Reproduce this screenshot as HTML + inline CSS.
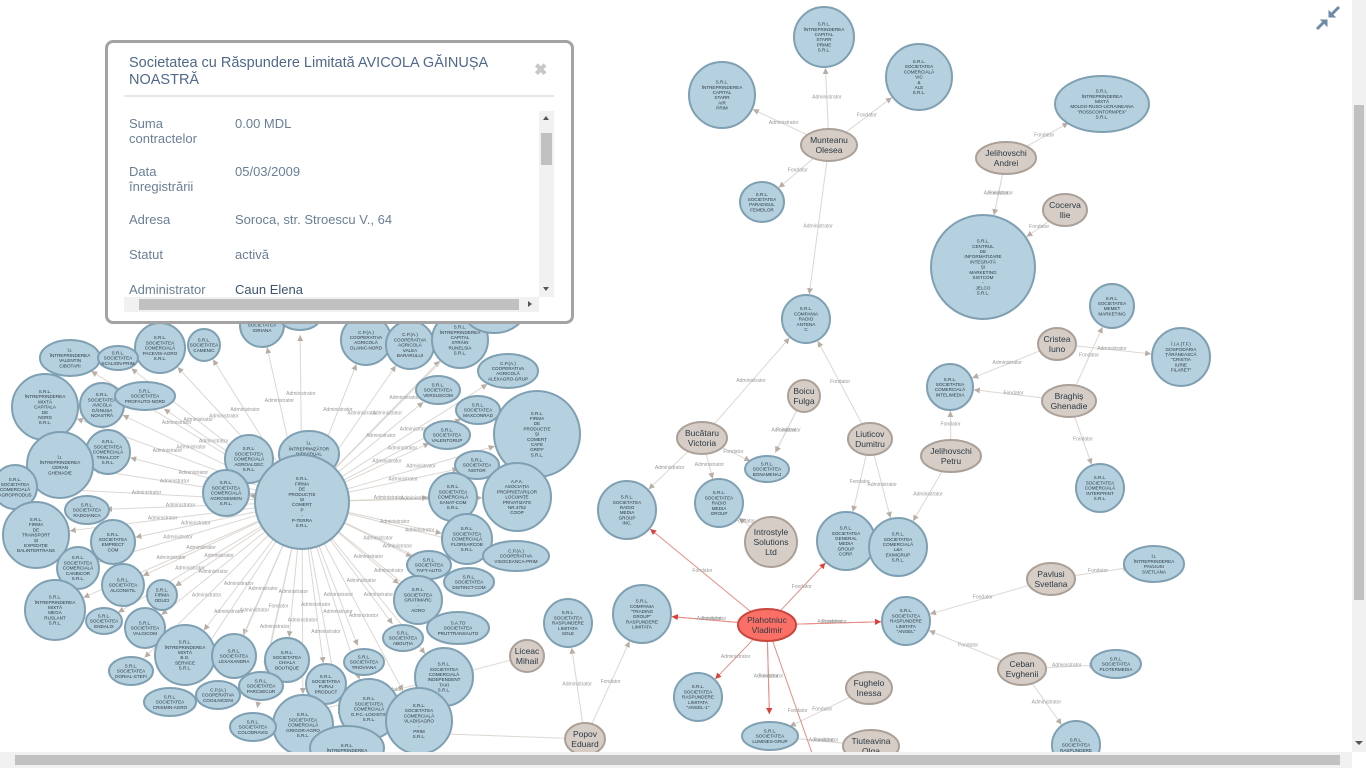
<!DOCTYPE html>
<html><head><meta charset="utf-8"><style>
html,body{margin:0;padding:0;width:1366px;height:768px;overflow:hidden;background:#fff;font-family:"Liberation Sans",sans-serif}
#graph{position:absolute;left:0;top:0}
.popup{position:absolute;left:105px;top:40px;width:463px;height:278px;border:3px solid #a3a3a3;border-radius:8px;background:#fff}
.ptitle{position:absolute;left:21px;top:12px;width:390px;font-size:14.5px;line-height:17px;color:#50688a}
.pclose{position:absolute;left:426px;top:17px;font-size:16px;color:#c8c8c8;font-weight:bold}
.pline{position:absolute;left:16px;top:52px;width:430px;height:2px;background:#e3e8ec}
.pbody{position:absolute;left:16px;top:68px;width:415px;height:186px;overflow:hidden;font-size:13px;line-height:15px;color:#6a7f96}
.row{position:absolute;left:5px}
.row .k{position:absolute;left:0;width:90px}
.row .v{position:absolute;left:106px;white-space:nowrap}
.vsb{position:absolute;left:431px;top:68px;width:15px;height:186px;background:#f1f1f1}
.hsb{position:absolute;left:16px;top:254px;width:415px;height:15px;background:#f1f1f1}
.vscroll{position:absolute;right:0;top:0;width:14px;height:752px;background:#f1f1f1}
.hscroll{position:absolute;left:0;bottom:0;width:1352px;height:16px;background:#f1f1f1}
</style></head><body>
<svg id="graph" width="1366" height="768"></svg>

<div class="popup">
 <div class="ptitle">Societatea cu Răspundere Limitată AVICOLA GĂINUȘA NOASTRĂ</div>
 <div class="pclose">✖</div>
 <div class="pline"></div>
 <div class="pbody">
  <div class="row" style="top:5px"><div class="k">Suma contractelor</div><div class="v">0.00 MDL</div></div>
  <div class="row" style="top:53px"><div class="k">Data înregistrării</div><div class="v">05/03/2009</div></div>
  <div class="row" style="top:101px"><div class="k">Adresa</div><div class="v">Soroca, str. Stroescu V., 64</div></div>
  <div class="row" style="top:136px"><div class="k">Statut</div><div class="v">activă</div></div>
  <div class="row" style="top:171px"><div class="k">Administrator</div><div class="v" style="color:#3d5470">Caun Elena</div></div>
 </div>
 <div class="vsb">
  <div style="position:absolute;left:4px;top:5px;border:3.5px solid transparent;border-bottom:4px solid #555;border-top:0"></div>
  <div style="position:absolute;left:2px;top:22px;width:11px;height:32px;background:#c1c1c1"></div>
  <div style="position:absolute;left:4px;top:176px;border:3.5px solid transparent;border-top:4px solid #555;border-bottom:0"></div>
 </div>
 <div class="hsb">
  <div style="position:absolute;left:15px;top:2px;width:380px;height:11px;background:#c1c1c1"></div>
  <div style="position:absolute;left:404px;top:4px;border:3.5px solid transparent;border-left:4px solid #555;border-right:0"></div>
 </div>
</div>

<div style="position:absolute;left:1314px;top:4px;width:28px;height:28px">
<svg width="28" height="28"><g stroke="#6f8aa8" stroke-width="3" fill="#6f8aa8"><line x1="3" y1="25" x2="11" y2="17"/><polygon points="7,16 13,16 13,22" stroke-width="1"/><line x1="25" y1="3" x2="17" y2="11"/><polygon points="15,7 15,13 21,13" stroke-width="1"/></g></svg></div>
<div class="vscroll"><div style="position:absolute;left:2px;top:105px;width:10px;height:495px;background:#c1c1c1"></div><div style="position:absolute;left:3px;top:741px;border:4px solid transparent;border-top:4px solid #555;border-bottom:0"></div></div>
<div class="hscroll"><div style="position:absolute;left:15px;top:3px;width:1325px;height:10px;background:#c1c1c1"></div></div>

<script>
const nodeIds=["n0","n1","n2","n3","n4","n5","n6","n7","n8","n9","n10","n11","n12","n13","n14","n15","n16","n17","n18","n19","n20","n21","n22","n23","pMun","pJA","pCoc","pCri","pBra","pBoi","pBuc","pLiu","pJP","pInt","pPav","pCeb","pFug","pTiu","pPop","pLic","pPla"];
const nodeX=[824,722,919,1102,762,983,806,1112,1181,950,1100,767,719,627,846,898,906,1154,642,568,698,770,1116,1076,829,1006,1065,1057,1069,804,702,870,951,771,1051,1022,869,871,585,527,767];
const nodeY=[37,95,77,104,202,267,319,306,357,387,488,469,503,510,541,547,621,564,614,623,697,736,664,745,145,158,210,344,401,396,438,439,456,542,579,669,688,746,739,656,625];
const nodeRX=[30,33,33,47,22,52,24,22,29,23,24,22,24,29,29,29,24,30,29,24,24,28,25,24,28,30,22,19,27,16,25,22,30,26,24,24,23,28,20,17,29];
const nodeRY=[30,33,33,28,20,52,24,22,29,23,24,13,24,29,29,29,24,18,29,24,24,14,14,24,16,16,16,16,16,16,16,16,16,25,16,16,16,16,16,16,16];
const nodeKind=["c","c","c","c","c","c","c","c","c","c","c","c","c","c","c","c","c","c","c","c","c","c","c","c","p","p","p","p","p","p","p","p","p","p","p","p","p","p","p","p","h"];
const nodeLabel=["S.R.L.|ÎNTREPRINDEREA|CAPITAL|STARR|PRIME|S.R.L.","S.R.L.|ÎNTREPRINDEREA|CAPITAL|STARR|AIR|PRIM","S.R.L.|SOCIETATEA|COMERCIALĂ|VIC|&|ALE|S.R.L.","S.R.L.|ÎNTREPRINDEREA|MIXTĂ|MOLDO-RUSO-UCRAINEANA|\"ROSSCONTORMPEX\"|S.R.L.","S.R.L.|SOCIETATEA|PARADISUL|FEMEILOR","S.R.L.|CENTRUL|DE|INFORMATIZARE|INTEGRATĂ|ȘI|MARKETING|SISTCOM|-|JELCO|S.R.L.","S.R.L.|COMPANIA|RADIO|ANTENA|C","S.R.L.|SOCIETATEA|MEMET|MARKETING","Î.I.A.(T.F.)|GOSPODĂRIA|ȚĂRĂNEASCĂ|\"CRISTIA|IURIE|FILARET\"","S.R.L.|SOCIETATEA|COMERCIALĂ|INTELIMEDIA","S.R.L.|SOCIETATEA|COMERCIALĂ|INTERPRINT|S.R.L.","S.R.L.|SOCIETATEA|BONAMENAJ","S.R.L.|SOCIETATEA|RADIO|MEDIA|GROUP","S.R.L.|SOCIETATEA|RADIO|MEDIA|GROUP|INC.","S.R.L.|SOCIETATEA|GENERAL|MEDIA|GROUP|CORP.","S.R.L.|SOCIETATEA|COMERCIALĂ|L&A|EXIMGRUP|S.R.L.","S.R.L.|SOCIETATEA|RASPUNDERE|LIMITATA|\"ANGEL\"","Î.I.|ÎNTREPRINDEREA|PAVLIUSI|SVETLANA","S.R.L.|COMPANIA|\"TRADING|GROUP\"|RASPUNDERE|LIMITATA","S.R.L.|SOCIETATEA|RASPUNDERE|LIMITATA|SOLE","S.R.L.|SOCIETATEA|RASPUNDERE|LIMITATA|\"ANGEL-1\"","S.R.L.|SOCIETATEA|LUMINES-GRUP","S.R.L.|SOCIETATEA|PLOTERMEDIA","S.R.L.|SOCIETATEA|RASPUNDERE","Munteanu|Olesea","Jelihovschi|Andrei","Cocerva|Ilie","Cristea|Iuno","Braghiș|Ghenadie","Boicu|Fulga","Bucătaru|Victoria","Liuticov|Dumitru","Jelihovschi|Petru","Introstyle|Solutions|Ltd","Pavlusi|Svetlana","Ceban|Evghenii","Fughelo|Inessa","Tiuteavina|Olga","Popov|Eduard","Liceac|Mihail","Plahotniuc|Vladimir"];
const edgeSrc=["pMun","pMun","pMun","pMun","pMun","pJA","pJA","pJA","pCoc","pCri","pCri","pBra","pBra","pBra","pJP","pJP","pBoi","pBoi","pBuc","pBuc","pBuc","pBuc","pLiu","pLiu","pLiu","pInt","pPla","pPla","pPla","pPla","pPla","pPla","pPla","pPla","pPla","pPav","pPav","pCeb","pCeb","pCeb","pFug","pTiu","pTiu","pPop","pPop","pPop","pLic"];
const edgeTgt=["n0","n1","n2","n4","n6","n3","n5","n5","n5","n9","n8","n9","n7","n10","n9","n15","n11","n11","n13","n12","n11","n6","n6","n15","n14","n12","n13","n18","n18","n14","n16","n16","n20","n21","n21","n17","n16","n16","n22","n23","n21","n21","n21","n19","n18","L56","L56"];
const edgeRole=["Administrator","Administrator","Fondator","Fondator","Administrator","Fondator","Administrator","Fondator","Fondator","Administrator","Administrator","Fondator","Fondator","Fondator","Fondator","Administrator","Administrator","Fondator","Administrator","Administrator","Fondator","Administrator","Fondator","Administrator","Fondator","Fondator","Fondator","Administrator","Fondator","Fondator","Administrator","Fondator","Administrator","Administrator","Fondator","Fondator","Fondator","Fondator","Administrator","Administrator","Fondator","Administrator","Fondator","Administrator","Fondator","Administrator","Fondator"];
const leftX=[160,204,262,300,366,410,460,494,508,70,118,45,102,145,108,60,15,249,309,438,478,447,477,537,453,517,467,516,226,87,36,113,78,123,55,162,104,145,185,234,287,131,170,218,261,326,364,429,469,418,403,458,444,369,419,303,253,347];
const leftY=[348,345,325,318,340,345,340,308,371,358,358,407,405,396,452,465,487,459,454,390,410,435,465,434,497,497,539,556,493,510,535,542,568,585,610,595,621,628,655,656,660,671,702,695,686,684,662,565,582,600,638,628,677,709,721,725,727,748];
const leftRX=[25,16,22,20,25,24,28,32,30,30,20,33,22,30,22,33,22,24,30,22,22,23,22,43,24,34,25,33,23,22,33,22,21,21,30,15,18,20,30,22,22,22,26,22,22,20,20,22,25,24,20,31,29,30,33,30,23,37];
const leftRY=[25,16,22,12,25,24,28,25,17,18,12,33,22,14,22,33,22,24,23,14,14,14,14,43,24,34,25,15,23,14,33,22,21,21,30,15,13,20,30,22,22,14,14,14,14,20,13,14,14,24,13,16,29,30,33,30,14,22];
const leftLabel=["S.R.L.|SOCIETATEA|COMERCIALĂ|PACEVIS-AGRO|S.R.L.","S.R.L.|SOCIETATEA|CAMENIC","S.R.L.|SOCIETATEA|IORIANA","S.R.L.|SOCIETATEA","C.P.(A.)|COOPERATIVA|AGRICOLĂ|OLANIC-NORD","C.P.(A.)|COOPERATIVA|AGRICOLĂ|VALEA|BARARULUI","S.R.L.|ÎNTREPRINDEREA|CAPITAL|STRĂIN|RUNELSIA|S.R.L.","S.R.L.","C.P.(A.)|COOPERATIVA|AGRICOLĂ|ALEXAGRO-GRUP","Î.I.|ÎNTREPRINDEREA|VALENTIN|CIBOTARI","S.R.L.|SOCIETATEA|SCALION-PRIM","S.R.L.|ÎNTREPRINDEREA|MIXTĂ|CAPITALA|DE|NORD|S.R.L.","S.R.L.|SOCIETATEA|AVICOLA|GĂINUȘA|NOASTRĂ","S.R.L.|SOCIETATEA|PROFAUTO-NORD","S.R.L.|SOCIETATEA|COMERCIALĂ|TRIALCOT|S.R.L.","Î.I.|ÎNTREPRINDEREA|CERAN|GHENADIE","S.R.L.|SOCIETATEA|COMERCIALĂ|AGROPRODUS","S.R.L.|SOCIETATEA|COMERCIALĂ|AGROALGEC|S.R.L.","Î.I.|ÎNTREPRINZĂTOR|INDIVIDUAL|CIOBANU|DANIELA","S.R.L.|SOCIETATEA|VERSUSCOM","S.R.L.|SOCIETATEA|MAXCONRAD","S.R.L.|SOCIETATEA|VALENTGRUP","S.R.L.|SOCIETATEA|NISTOR","S.R.L.|FIRMA|DE|PRODUCȚIE|ȘI|COMERȚ|CAFE|GRIFF|S.R.L.","S.R.L.|SOCIETATEA|COMERCIALĂ|SANAT-COM|S.R.L.","A.F.A.|ASOCIAȚIA|PROPRIETARILOR|LOCUINȚE|PRIVATIZATE|NR.4752|COOP","S.R.L.|SOCIETATEA|COMERCIALĂ|FLORSARCOB|S.R.L.","C.P.(A.)|COOPERATIVA|VISOCEANCA-PRIM","S.R.L.|SOCIETATEA|COMERCIALĂ|AGROSEMION|S.R.L.","S.R.L.|SOCIETATEA|RADOIANCA","S.R.L.|FIRMA|DE|TRANSPORT|ȘI|EXPEDIȚIE|BALINTERTRANS","S.R.L.|SOCIETATEA|EMPRECT|COM","S.R.L.|SOCIETATEA|COMERCIALĂ|CANBICOR|S.R.L.","S.R.L.|SOCIETATEA|ALCONSTIL","S.R.L.|ÎNTREPRINDEREA|MIXTĂ|MEGA|RUSLANT|S.R.L.","S.R.L.|FIRMA|ODUCI","S.R.L.|SOCIETATEA|ENDALIX","S.R.L.|SOCIETATEA|VALGICOM","S.R.L.|ÎNTREPRINDEREA|MIXTĂ|B.G.|SERVICE|S.R.L.","S.R.L.|SOCIETATEA|LEXAXANDRA","S.R.L.|SOCIETATEA|CHIALA|BOUTIQUE","S.R.L.|SOCIETATEA|DORIAL-STEFI","S.R.L.|SOCIETATEA|CRISMIN-AGRO","C.P.(A.)|COOPERATIVA|COGILNICENI","S.R.L.|SOCIETATEA|PARCSECUR","S.R.L.|SOCIETATEA|FURAJ|PRODUCT","S.R.L.|SOCIETATEA|TRIOVIANA","S.R.L.|SOCIETATEA|TAFT-AUTO","S.R.L.|SOCIETATEA|DISTINCT-COM","S.R.L.|SOCIETATEA|GRATIMARC|-|AGRO","S.R.L.|SOCIETATEA|ABOUȚIA","S.A.TD|SOCIETATEA|PRUTTRANSAUTO","S.R.L.|SOCIETATEA|COMERCIALĂ|INDEPENDENT|TAXI|S.R.L.","S.R.L.|SOCIETATEA|COMERCIALĂ|G.P.C.-LOGISTIC|S.R.L.","S.R.L.|SOCIETATEA|COMERCIALĂ|VLADISAGRO|-|PRIM|S.R.L.","S.R.L.|SOCIETATEA|COMERCIALĂ|GRIGOR-AGRO|S.R.L.","S.R.L.|SOCIETATEA|COLODRAVIG","S.R.L.|ÎNTREPRINDEREA"];
const hubX=302, hubY=502, hubR=47;
const hubLabel="S.R.L.|FIRMA|DE|PRODUCȚIE|ȘI|COMERȚ|P|-|P-TERRA|S.R.L.";

const svg=document.getElementById('graph');
const NS='http://www.w3.org/2000/svg';
function mk(tag,attrs){const e=document.createElementNS(NS,tag);for(const k in attrs)e.setAttribute(k,attrs[k]);return e;}
const defs=mk('defs',{});
['g','r'].forEach(c=>{const m=mk('marker',{id:'ar'+c,viewBox:'0 0 10 10',refX:10,refY:5,markerWidth:6,markerHeight:6,orient:'auto'});m.appendChild(mk('path',{d:'M0,0L10,5L0,10z',fill:c=='g'?'#b8aea6':'#d9413a'}));defs.appendChild(m);});
svg.appendChild(defs);
const gE=mk('g',{}),gL=mk('g',{}),gN=mk('g',{});
svg.appendChild(gE);svg.appendChild(gL);svg.appendChild(gN);

function pos(id){
  if(id[0]=='L'){const i=+id.slice(1);return [leftX[i],leftY[i],leftRX[i],leftRY[i]];}
  const i=nodeIds.indexOf(id);return [nodeX[i],nodeY[i],nodeRX[i],nodeRY[i]];
}
function edge(a,b,role,red){
  const dx=b[0]-a[0],dy=b[1]-a[1],d=Math.hypot(dx,dy)||1;
  const ra=Math.min(a[2],a[3]),rb=(b[2]+b[3])/2;
  const x1=a[0]+dx/d*ra,y1=a[1]+dy/d*ra,x2=b[0]-dx/d*(rb+1),y2=b[1]-dy/d*(rb+1);
  const l=mk('line',{x1:x1,y1:y1,x2:x2,y2:y2,stroke:red?'#e88d87':'#ddd7d2','stroke-width':1,'marker-end':'url(#ar'+(red?'r':'g')+')'});
  
  
  gE.appendChild(l);
  const t=mk('text',{x:(x1+x2)/2,y:(y1+y2)/2,'font-size':5,fill:'#999','text-anchor':'middle','font-family':'Liberation Sans, sans-serif'});
  t.textContent=role;
  
  
  gL.appendChild(t);
}
function node(x,y,rx,ry,kind,label,name){
  const g=mk('g',{});
  
  
  const fill=kind=='c'?'#b5d0de':kind=='p'?'#d6cdc6':'#fb7066';
  const st=kind=='c'?'#7fa0b3':kind=='p'?'#aaa098':'#c8453c';
  g.appendChild(mk('ellipse',{cx:x,cy:y,rx:rx,ry:ry,fill:fill,stroke:st,'stroke-width':2}));
  const lines=label.split('|');
  const fs=kind=='c'?4.6:8.5, lh=kind=='c'?5.2:10;
  const t=mk('text',{'font-size':fs,fill:'#2c3a44','text-anchor':'middle','font-family':'Liberation Sans, sans-serif'});
  lines.forEach((s,k)=>{const ts=mk('tspan',{x:x,y:y-(lines.length-1)*lh/2+k*lh+fs*0.35});ts.textContent=s;t.appendChild(ts);});
  g.appendChild(t);gN.appendChild(g);
}
for(let i=0;i<edgeSrc.length;i++){
  const a=pos(edgeSrc[i]),b=pos(edgeTgt[i]);
  edge(a,b,edgeRole[i],edgeSrc[i]=='pPla');
}
edge(pos('pPla'),[825,790,5,5],'Fondator',true);
for(let i=0;i<leftX.length;i++){
  edge([hubX,hubY,hubR,hubR],[leftX[i],leftY[i],leftRX[i],leftRY[i]],i==44?'Fondator':'Administrator',false);
}
for(let i=0;i<leftX.length;i++) node(leftX[i],leftY[i],leftRX[i],leftRY[i],'c',leftLabel[i],'company-node');
node(hubX,hubY,hubR,hubR,'c',hubLabel,'hub-company-node');
for(let i=0;i<nodeIds.length;i++) node(nodeX[i],nodeY[i],nodeRX[i],nodeRY[i],nodeKind[i],nodeLabel[i],nodeKind[i]=='c'?'company-node':nodeKind[i]=='h'?'selected-person-node':'person-node');
</script>
</body></html>
